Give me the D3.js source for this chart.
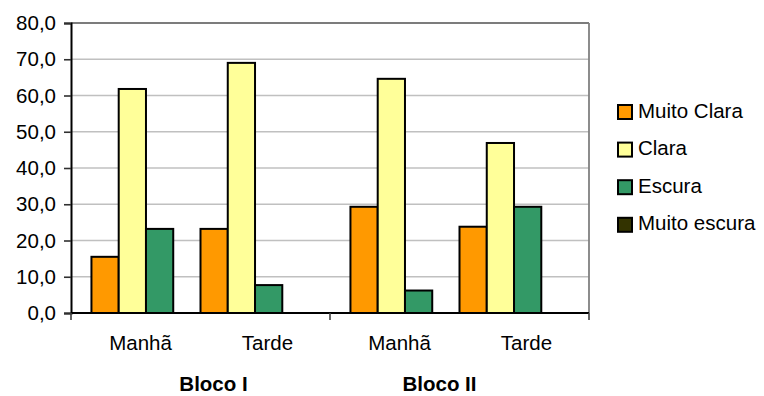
<!DOCTYPE html>
<html>
<head>
<meta charset="utf-8">
<script src="https://cdn.jsdelivr.net/npm/d3@7"></script>
<style>
  html, body { margin: 0; padding: 0; background: #fff; }
  svg { display: block; font-family: Arial, "Liberation Sans", sans-serif; }
</style>
</head>
<body>
<svg id="chart" width="764" height="396"></svg>
<script>
// ---- data ----
const blocks = ["Bloco I", "Bloco II"];
const periods = ["Manhã", "Tarde"];
const seriesNames = ["Muito Clara", "Clara", "Escura", "Muito escura"];
const seriesColors = ["#FF9900", "#FFFF99", "#339966", "#333300"];
// values per (block, period): Bloco I Manhã, Bloco I Tarde, Bloco II Manhã, Bloco II Tarde
const muitoClara = [15.5, 23.2, 29.3, 23.8];
const clara = [61.8, 69.0, 64.6, 46.9];
const escura = [23.2, 7.7, 6.2, 29.3];
const muitoEscura = [0, 0, 0, 0];
const yTicks = [0, 10, 20, 30, 40, 50, 60, 70, 80];
// manual offsets of the "Bloco" text boxes relative to their block centre
const blocoLabelShift = [13, -20];

const seriesValues = [muitoClara, clara, escura, muitoEscura];

// ---- layout ----
const svg = d3.select("#chart");
const L = 71, R = 589, T = 23, B = 313;
const fontSize = 20.5;

const y = d3.scaleLinear().domain([0, 80]).range([B, T]);
const gapRatio = 1.5 / 9.5;
const xBlock = d3.scaleBand().domain(blocks).range([L, R]).paddingInner(gapRatio).paddingOuter(gapRatio / 2);
const xPeriod = d3.scaleBand().domain(periods).range([0, xBlock.bandwidth()]).padding(0);
const xSeries = d3.scaleBand().domain(seriesNames).range([0, xPeriod.bandwidth()]).padding(0);

// gridlines
svg.append("g")
  .selectAll("line")
  .data(yTicks.filter(d => d > 0 && d < 80))
  .join("line")
  .attr("x1", L).attr("x2", R)
  .attr("y1", d => y(d)).attr("y2", d => y(d))
  .attr("stroke", "#c0c0c0").attr("stroke-width", 1.6);

// plot border top and right
svg.append("line").attr("x1", L).attr("x2", R).attr("y1", y(80)).attr("y2", y(80))
  .attr("stroke", "#505050").attr("stroke-width", 1.6);
svg.append("line").attr("x1", R).attr("x2", R).attr("y1", T).attr("y2", B)
  .attr("stroke", "#808080").attr("stroke-width", 1.8);

// bars
const rows = [];
blocks.forEach((b, bi) => periods.forEach((p, pi) => seriesNames.forEach((s, si) => {
  rows.push({ block: b, period: p, series: s, si, value: seriesValues[si][bi * periods.length + pi] });
})));

svg.append("g")
  .selectAll("rect")
  .data(rows.filter(d => d.value > 0))
  .join("rect")
  .attr("x", d => xBlock(d.block) + xPeriod(d.period) + xSeries(d.series))
  .attr("y", d => y(d.value))
  .attr("width", xSeries.bandwidth())
  .attr("height", d => y(0) - y(d.value))
  .attr("fill", d => seriesColors[d.si])
  .attr("stroke", "#000").attr("stroke-width", 2);

// y axis
const yAxis = d3.axisLeft(y).tickValues(yTicks).tickSize(7).tickPadding(8)
  .tickFormat(d => d3.format(".1f")(d).replace(".", ","));
const gy = svg.append("g").attr("transform", `translate(${L},0)`).call(yAxis);
gy.select(".domain").attr("stroke", "#000").attr("stroke-width", 2);
gy.selectAll(".tick line").attr("stroke", "#303030").attr("stroke-width", 1.6);
gy.selectAll(".tick text").attr("font-size", fontSize).attr("fill", "#000")
  .attr("font-family", "Arial, 'Liberation Sans', sans-serif");

// x axis baseline and block ticks
svg.append("line").attr("x1", L).attr("x2", R).attr("y1", B).attr("y2", B)
  .attr("stroke", "#000").attr("stroke-width", 1.8);
const boundaries = [L].concat(blocks.map(b => xBlock(b) + xBlock.bandwidth() + xBlock.step() * gapRatio / 2));
svg.append("g").selectAll("line").data(boundaries).join("line")
  .attr("x1", d => d).attr("x2", d => d).attr("y1", B).attr("y2", B + 7)
  .attr("stroke", "#404040").attr("stroke-width", 1.6);

// category labels (Manhã / Tarde)
const labelRows = [];
blocks.forEach(b => periods.forEach(p => labelRows.push({ block: b, period: p })));
const periodShift = { "Manhã": -60, "Tarde": 67 };
svg.append("g").selectAll("text").data(labelRows).join("text")
  .attr("x", d => xBlock(d.block) + xBlock.bandwidth() / 2 + periodShift[d.period])
  .attr("y", 350)
  .attr("text-anchor", "middle")
  .attr("font-size", fontSize).attr("fill", "#000")
  .text(d => d.period);

// block labels
svg.append("g").selectAll("text").data(blocks).join("text")
  .attr("x", (d, i) => xBlock(d) + xBlock.bandwidth() / 2 + blocoLabelShift[i])
  .attr("y", 391)
  .attr("text-anchor", "middle")
  .attr("font-size", fontSize).attr("font-weight", "bold").attr("fill", "#000")
  .text(d => d);

// legend
const lg = svg.append("g").selectAll("g").data(seriesNames).join("g")
  .attr("transform", (d, i) => `translate(618, ${105 + i * 37.6})`);
lg.append("rect").attr("width", 14).attr("height", 14)
  .attr("fill", (d, i) => seriesColors[i]).attr("stroke", "#000").attr("stroke-width", 2);
lg.append("text").attr("x", 20).attr("y", 12.5)
  .attr("font-size", fontSize).attr("fill", "#000")
  .text(d => d);
</script>
</body>
</html>
